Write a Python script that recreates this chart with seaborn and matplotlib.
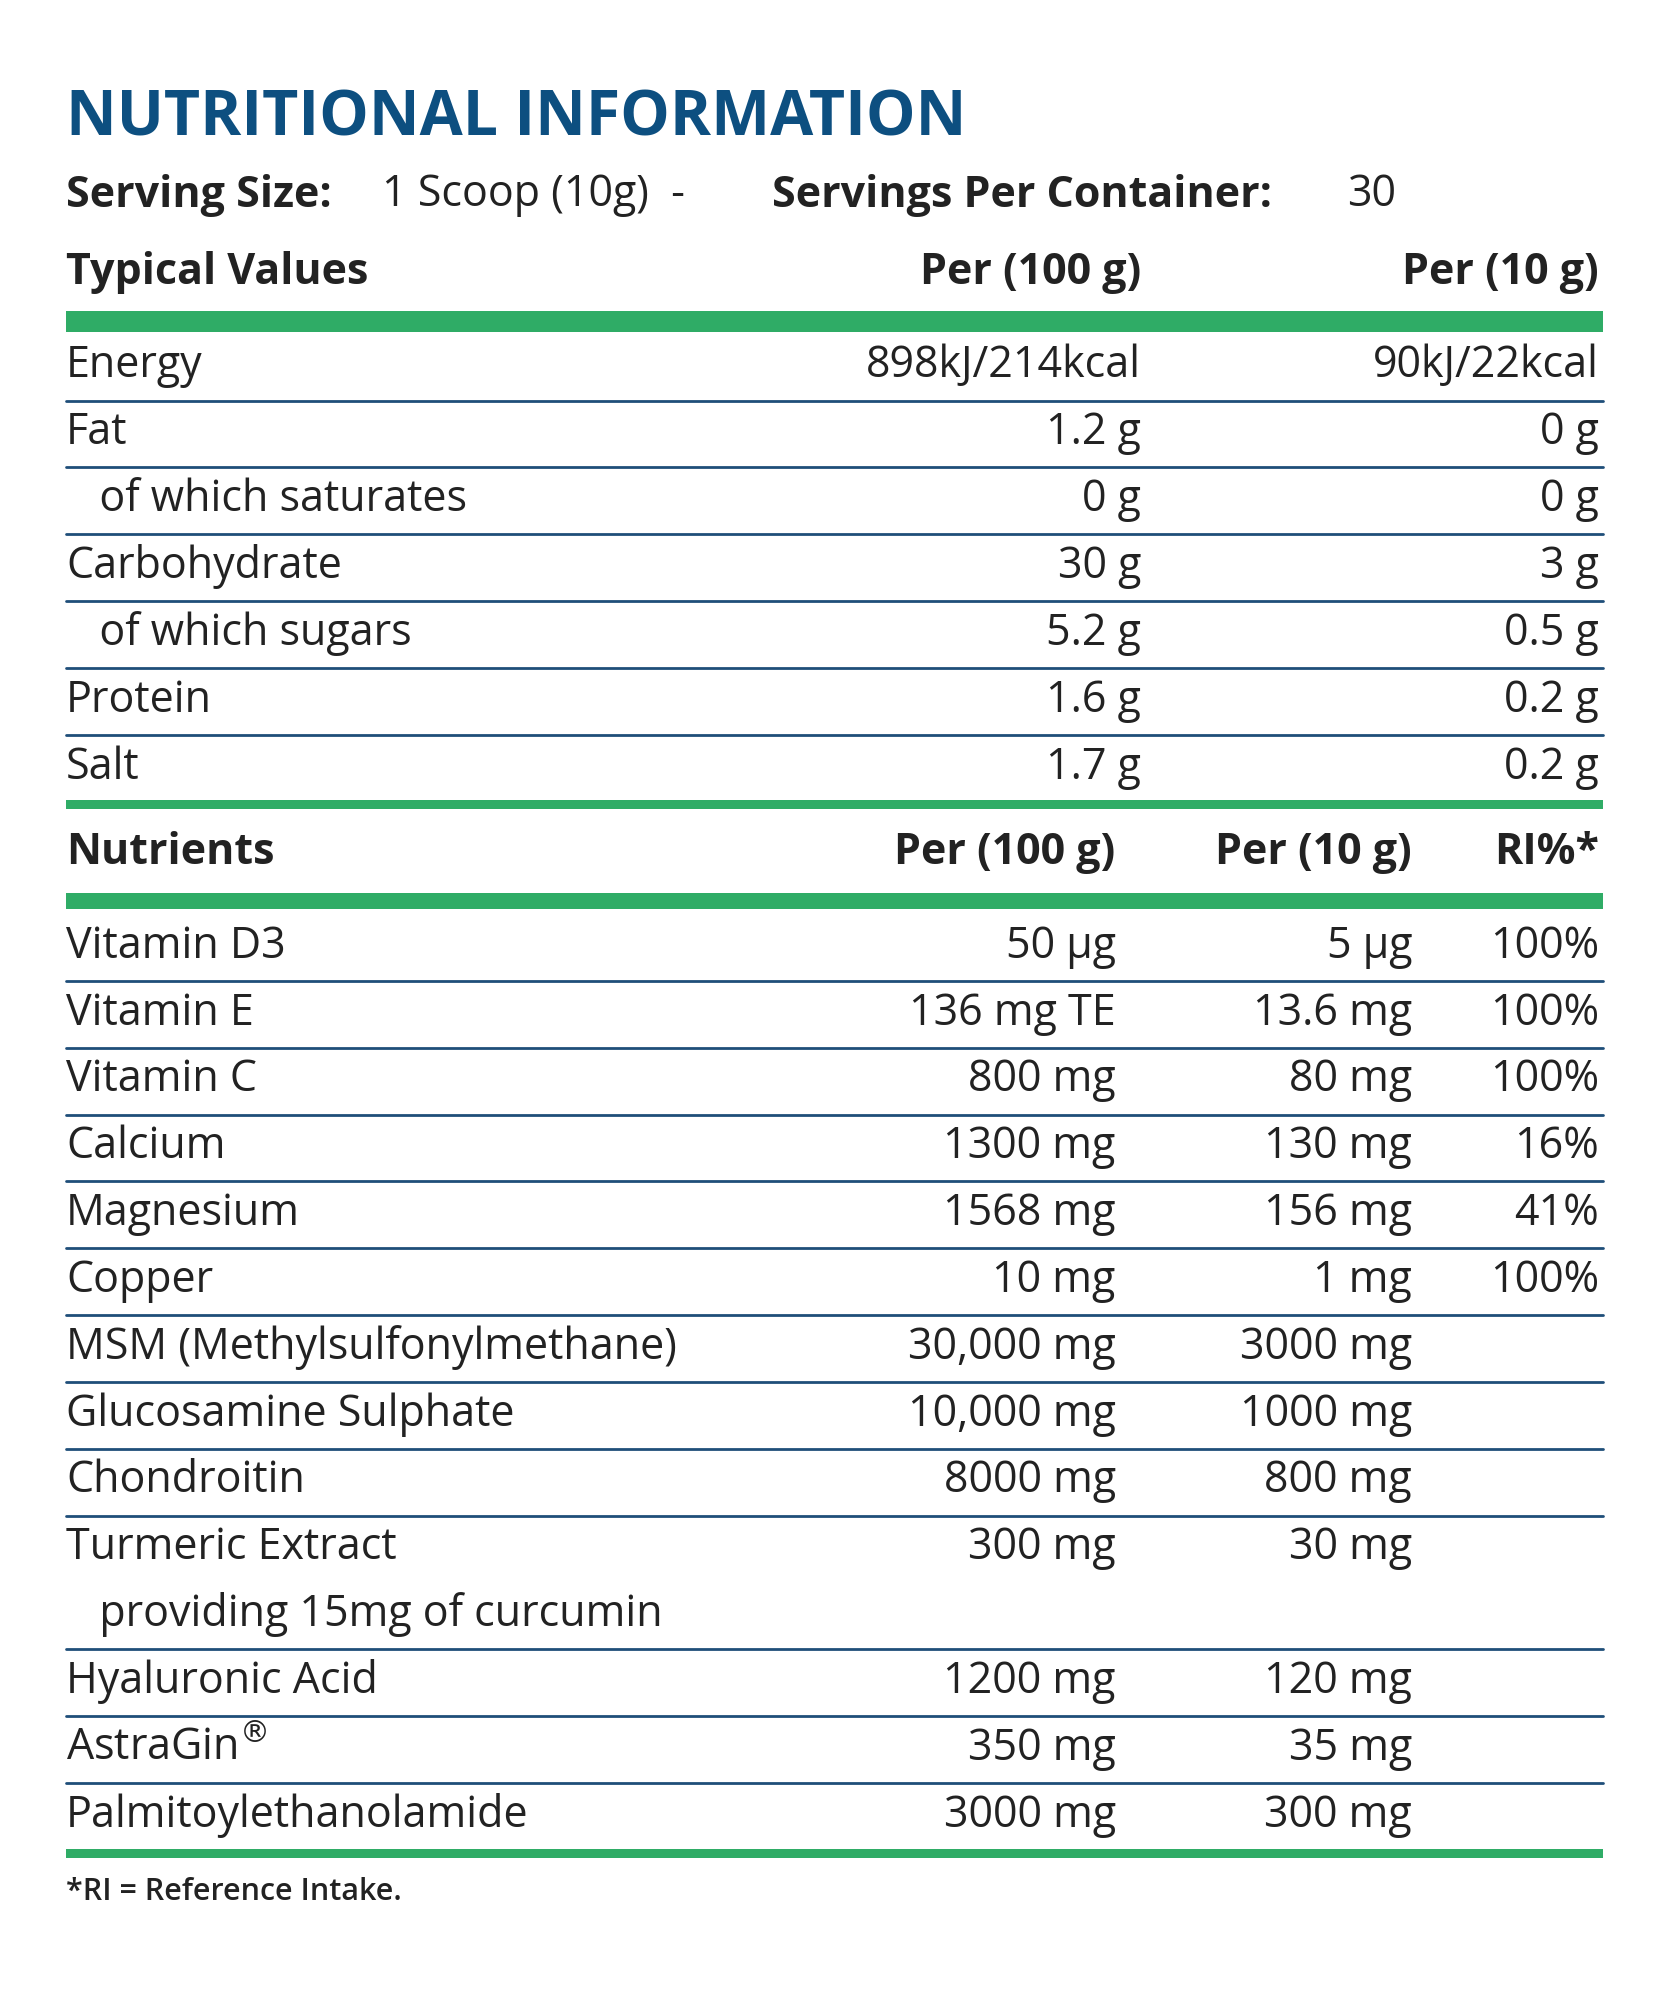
import matplotlib
matplotlib.use("Agg")
import matplotlib.pyplot as plt
import seaborn as sns

sns.set_theme(style="white")
plt.rcParams['font.family'] = ['Open Sans', 'DejaVu Sans']

title = "NUTRITIONAL INFORMATION"
typ_header = ["Typical Values", "Per (100 g)", "Per (10 g)"]
typ_names = ["Energy", "Fat", "   of which saturates", "Carbohydrate", "   of which sugars", "Protein", "Salt"]
typ_100 = ["898kJ/214kcal", "1.2 g", "0 g", "30 g", "5.2 g", "1.6 g", "1.7 g"]
typ_10 = ["90kJ/22kcal", "0 g", "0 g", "3 g", "0.5 g", "0.2 g", "0.2 g"]

nut_header = ["Nutrients", "Per (100 g)", "Per (10 g)", "RI%*"]
nut_names = ["Vitamin D3", "Vitamin E", "Vitamin C", "Calcium", "Magnesium", "Copper",
             "MSM (Methylsulfonylmethane)", "Glucosamine Sulphate", "Chondroitin",
             "Turmeric Extract", "   providing 15mg of curcumin", "Hyaluronic Acid",
             "AstraGin$^{®}$", "Palmitoylethanolamide"]
nut_100 = ["50 µg", "136 mg TE", "800 mg", "1300 mg", "1568 mg", "10 mg", "30,000 mg",
           "10,000 mg", "8000 mg", "300 mg", "", "1200 mg", "350 mg", "3000 mg"]
nut_10 = ["5 µg", "13.6 mg", "80 mg", "130 mg", "156 mg", "1 mg", "3000 mg",
          "1000 mg", "800 mg", "30 mg", "", "120 mg", "35 mg", "300 mg"]
nut_ri = ["100%", "100%", "100%", "16%", "41%", "100%", "", "", "", "", "", "", "", ""]

BLUE = "#0d4f80"
GREEN = "#2fac66"
LINE = "#1f4e79"
TXT = "#222222"

fig = plt.figure(figsize=(16.64, 20), dpi=100)
ax = fig.add_axes([0, 0, 1, 1])
ax.set_xlim(0, 1308)
ax.set_ylim(1568, 0)
ax.axis("off")

L, R = 52, 1260
FS = 31

ax.text(L, 93, title, fontsize=45, fontweight="bold", color=BLUE, va="center")
ax.text(L, 153, "Serving Size:", fontsize=FS, fontweight="bold", color=TXT, va="center")
ax.text(300, 153, "1 Scoop (10g)  -", fontsize=FS, color=TXT, va="center")
ax.text(607, 153, "Servings Per Container:", fontsize=FS, fontweight="bold", color=TXT, va="center")
ax.text(1097, 153, "30", fontsize=FS, color=TXT, va="center", ha="right")

# typical values
ax.text(L, 214, typ_header[0], fontsize=FS, fontweight="bold", color=TXT, va="center")
ax.text(897, 214, typ_header[1], fontsize=FS, fontweight="bold", color=TXT, va="center", ha="right")
ax.text(1257, 214, typ_header[2], fontsize=FS, fontweight="bold", color=TXT, va="center", ha="right")
ax.fill_between([L, R], 244, 260, color=GREEN, lw=0)
y0, step = 287, 52.5
for i, (n, a, b) in enumerate(zip(typ_names, typ_100, typ_10)):
    y = y0 + i * step
    ax.text(L, y, n, fontsize=FS, color=TXT, va="center")
    ax.text(897, y, a, fontsize=FS, color=TXT, va="center", ha="right")
    ax.text(1257, y, b, fontsize=FS, color=TXT, va="center", ha="right")
    if i < len(typ_names) - 1:
        ax.plot([L, R], [y + 27, y + 27], color=LINE, lw=2)
ax.fill_between([L, R], 627, 634, color=GREEN, lw=0)

# nutrients
cols = [877, 1110, 1257]
ax.text(L, 668, nut_header[0], fontsize=FS, fontweight="bold", color=TXT, va="center")
for c, h in zip(cols, nut_header[1:]):
    ax.text(c, 668, h, fontsize=FS, fontweight="bold", color=TXT, va="center", ha="right")
ax.fill_between([L, R], 700, 713, color=GREEN, lw=0)
y0 = 742
for i, (n, a, b, r) in enumerate(zip(nut_names, nut_100, nut_10, nut_ri)):
    y = y0 + i * 52.4
    ax.text(L, y, n, fontsize=FS, color=TXT, va="center")
    for c, v in zip(cols, [a, b, r]):
        ax.text(c, y, v, fontsize=FS, color=TXT, va="center", ha="right")
    if i < len(nut_names) - 1 and i != 9:
        ax.plot([L, R], [y + 27, y + 27], color=LINE, lw=2)
ax.fill_between([L, R], 1450, 1457, color=GREEN, lw=0)
ax.text(L, 1483, "*RI = Reference Intake.", fontsize=22, fontweight="semibold", color=TXT, va="center")

fig.savefig("out.png", dpi=100, facecolor="white")
